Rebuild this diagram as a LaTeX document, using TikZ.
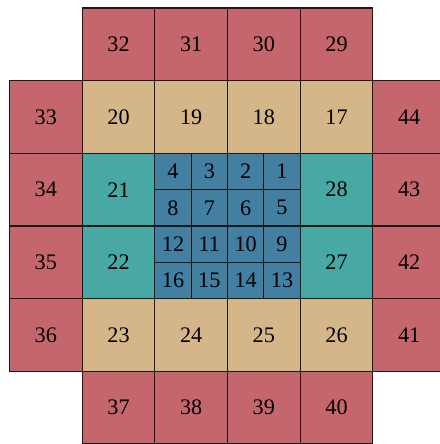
\documentclass[tikz,border=0pt]{standalone}
\usepackage{fontspec}
\setmainfont{Liberation Serif}
\definecolor{ringred}{HTML}{C4666C}
\definecolor{ringtan}{HTML}{D4B688}
\definecolor{ringteal}{HTML}{48A8A3}
\definecolor{coreblue}{HTML}{427FA1}
\begin{document}
\begin{tikzpicture}[cell/.style={draw=black!90, line width=0.5pt, minimum size=1cm, inner sep=0pt, outer sep=0pt, font=\fontsize{8.7}{10}\selectfont},
    subcell/.style={cell, minimum size=0.5cm, fill=coreblue}]
      \useasboundingbox (-0.131,0) rectangle (5.922,6.110);
      \clip (-0.131,0) rectangle (5.922,6.110);

      % Outer ring (red)
      \foreach \n [count=\i] in {32,31,30,29}
        \node[cell, fill=ringred] (c\n) at (\i+0.5,5.5) {\n};
      \foreach \n [count=\i] in {37,38,39,40}
        \node[cell, fill=ringred] (c\n) at (\i+0.5,0.5) {\n};
      \foreach \n [count=\i] in {33,34,35,36}
        \node[cell, fill=ringred] (c\n) at (0.5,5.5-\i) {\n};
      \foreach \n [count=\i] in {44,43,42,41}
        \node[cell, fill=ringred] (c\n) at (5.5,5.5-\i) {\n};

      % Middle ring (tan and teal)
      \foreach \n [count=\i] in {20,19,18,17}
        \node[cell, fill=ringtan] (c\n) at (\i+0.5,4.5) {\n};
      \foreach \n [count=\i] in {23,24,25,26}
        \node[cell, fill=ringtan] (c\n) at (\i+0.5,1.5) {\n};
      \node[cell, fill=ringteal] (c21) at (1.5,3.5) {21};
      \node[cell, fill=ringteal] (c22) at (1.5,2.5) {22};
      \node[cell, fill=ringteal] (c28) at (4.5,3.5) {28};
      \node[cell, fill=ringteal] (c27) at (4.5,2.5) {27};

      % Core (4x4 blue)
      \foreach \j in {0,...,3}
        \foreach \k in {0,...,3} {
          \pgfmathtruncatemacro\n{4*\j+4-\k}
          \node[subcell] (s\n) at (2.25+0.5*\k,3.75-0.5*\j) {\n};
        }
    \end{tikzpicture}
\end{document}
